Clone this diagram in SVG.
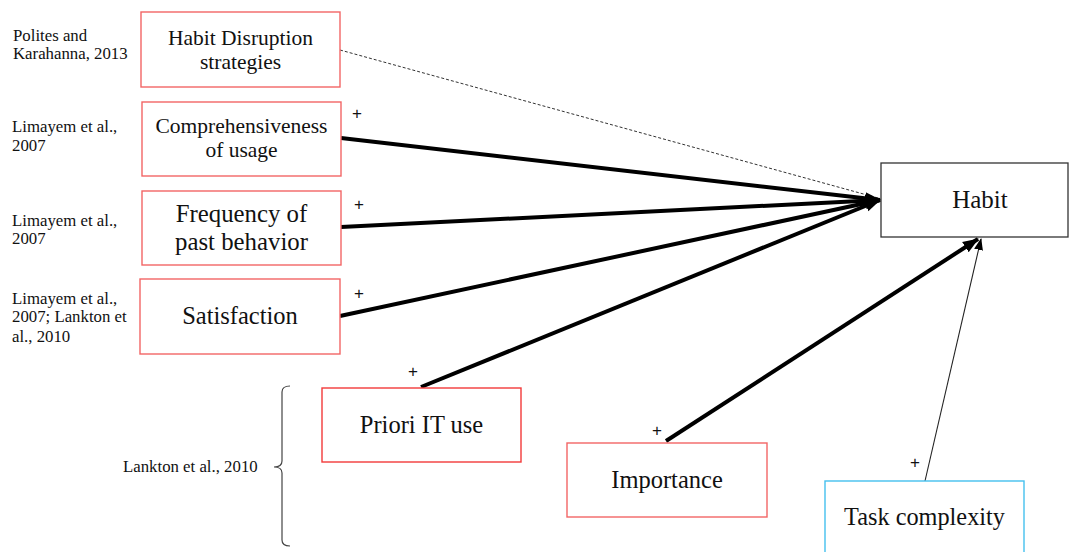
<svg xmlns="http://www.w3.org/2000/svg" width="1070" height="552" viewBox="0 0 1070 552">
<defs>
<style>
.bx{fill:#fff;stroke:#f26565;stroke-width:1.4}
.bxr{fill:#fff;stroke:#f23a3a;stroke-width:1.4}
.bxb{fill:#fff;stroke:#45c0ee;stroke-width:1.4}
.bxk{fill:#fff;stroke:#333;stroke-width:1.3}
text{font-family:'Liberation Serif','Times New Roman',serif;fill:#111}
.lb{text-anchor:middle}
.ct{font-size:16.8px}
.pl{font-family:'Liberation Sans',Arial,sans-serif;font-size:17px;text-anchor:middle}
.thick{stroke:#000;stroke-width:4;fill:none;marker-end:url(#ah)}
.thin{stroke:#222;stroke-width:1.1;fill:none;marker-end:url(#ahs)}
.dash{stroke:#333;stroke-width:1;stroke-dasharray:3 2;fill:none}
</style>
<marker id="ah" markerUnits="userSpaceOnUse" markerWidth="16" markerHeight="16" viewBox="0 0 16 16" refX="15" refY="8" orient="auto">
<path d="M0,2 L16,8 L0,14 Z" fill="#000"/>
</marker>
<marker id="ahs" markerUnits="userSpaceOnUse" markerWidth="12" markerHeight="12" viewBox="0 0 12 12" refX="11" refY="6" orient="auto">
<path d="M0,1.5 L12,6 L0,10.5 Z" fill="#000"/>
</marker>
</defs>

<g id="connectors">
<line class="dash" x1="340" y1="50" x2="878" y2="198"/>
<line class="thick" x1="341" y1="138" x2="880" y2="200"/>
<line class="thick" x1="341" y1="227" x2="880" y2="200"/>
<line class="thick" x1="340" y1="316" x2="880" y2="200"/>
<line class="thick" x1="421" y1="387" x2="880" y2="200"/>
<line class="thick" x1="666" y1="441" x2="978" y2="239"/>
<line class="thin" x1="925" y1="481" x2="981" y2="239"/>
<text class="pl" x="357" y="119">+</text>
<text class="pl" x="359" y="210">+</text>
<text class="pl" x="359" y="299">+</text>
<text class="pl" x="413" y="377">+</text>
<text class="pl" x="657" y="436">+</text>
<text class="pl" x="915" y="468">+</text>
</g>

<g id="brace">
<path d="M290,386 Q282,386 282,392 L282,461 Q282,467 274,467 Q282,467 282,473 L282,540 Q282,546 290,546" fill="none" stroke="#444" stroke-width="1.2"/>
</g>

<g id="citations">
<text class="ct" x="13" y="41">Polites and</text>
<text class="ct" x="13" y="59">Karahanna, 2013</text>
<text class="ct" x="12" y="132">Limayem et al.,</text>
<text class="ct" x="12" y="151">2007</text>
<text class="ct" x="12" y="226">Limayem et al.,</text>
<text class="ct" x="12" y="244">2007</text>
<text class="ct" x="12" y="304">Limayem et al.,</text>
<text class="ct" x="12" y="322">2007; Lankton et</text>
<text class="ct" x="12" y="342">al., 2010</text>
<text class="ct" x="123" y="472">Lankton et al., 2010</text>
</g>

<g id="n-habit-disruption">
<rect class="bx" x="141" y="12" width="199" height="75"/>
<text class="lb" x="240.5" y="45" font-size="21.5">Habit Disruption</text>
<text class="lb" x="240.5" y="69" font-size="21.5">strategies</text>
</g>
<g id="n-comprehensiveness">
<rect class="bx" x="142" y="102" width="199" height="74"/>
<text class="lb" x="241.5" y="133" font-size="21.5">Comprehensiveness</text>
<text class="lb" x="241.5" y="157" font-size="21.5">of usage</text>
</g>
<g id="n-frequency">
<rect class="bx" x="142" y="191" width="199" height="74"/>
<text class="lb" x="241.5" y="222" font-size="24.8">Frequency of</text>
<text class="lb" x="241.5" y="250" font-size="24.8">past behavior</text>
</g>
<g id="n-satisfaction">
<rect class="bx" x="140" y="279" width="200" height="75"/>
<text class="lb" x="240" y="324" font-size="24.5">Satisfaction</text>
</g>
<g id="n-priori">
<rect class="bxr" x="322" y="388" width="199" height="74"/>
<text class="lb" x="421.5" y="433" font-size="24.5">Priori IT use</text>
</g>
<g id="n-importance">
<rect class="bx" x="567" y="443" width="200" height="74"/>
<text class="lb" x="667" y="488" font-size="24.5">Importance</text>
</g>
<g id="n-task">
<rect class="bxb" x="825" y="481" width="199" height="80"/>
<text class="lb" x="924.5" y="525" font-size="24.3">Task complexity</text>
</g>
<g id="n-habit">
<rect class="bxk" x="881" y="163" width="187" height="74"/>
<text class="lb" x="980" y="208" font-size="25">Habit</text>
</g>
</svg>
